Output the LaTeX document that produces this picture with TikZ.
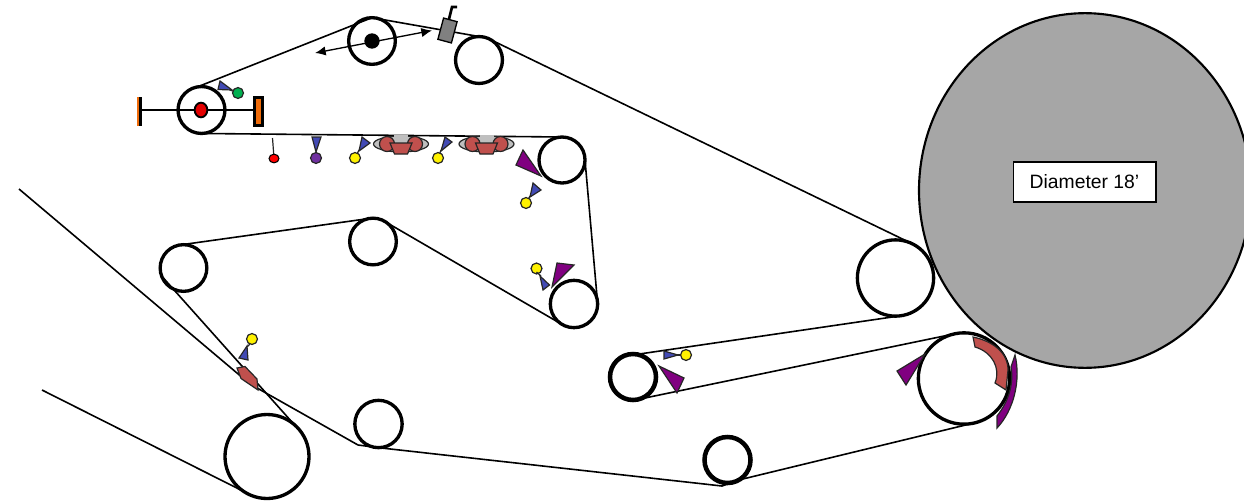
\documentclass[tikz,border=0pt]{standalone}
\usepackage{fontspec}
\usetikzlibrary{shapes.geometric,arrows.meta}
\setmainfont{Liberation Sans}
\tikzset{
 roller/.style={circle,draw=black,fill=white,line width=#1,inner sep=0pt,outer sep=0pt},
 roller/.default=2.5pt,
 belt/.style={draw=black,line width=1.2pt,line join=round},
 trip/.style={draw=black!85,fill=#1,line width=0.9pt,line join=miter},
 ball/.style={circle,draw=black!85,fill=#1,line width=0.9pt,inner sep=0pt,minimum size=8.2pt},
 stem/.style={draw=black!85,line width=0.9pt},
}
\definecolor{nblue}{RGB}{66,74,180}
\definecolor{npurple}{RGB}{128,0,128}
\definecolor{nbrick}{RGB}{192,80,77}
\definecolor{nvio}{RGB}{112,48,160}
\definecolor{ngreen}{RGB}{0,176,80}
\definecolor{norange}{RGB}{240,108,10}
\definecolor{ngray}{RGB}{166,166,166}
\definecolor{lgray}{RGB}{191,191,191}
\definecolor{dgray}{RGB}{128,128,128}
\begin{document}
\begin{tikzpicture}[x=0.75pt,y=-0.75pt]
\useasboundingbox (0,0) rectangle (1244,503);
\clip (0,0) rectangle (1244,503);
% drum
\node[ellipse,draw=black,fill=ngray,line width=1.6pt,minimum width=249pt,minimum height=266pt,inner sep=0pt,outer sep=0pt] (drum) at (1085,190.5) {};
\node[draw=black,fill=white,line width=1pt,minimum width=107pt,minimum height=30pt,inner sep=0pt,font=\fontsize{14.5}{16}\selectfont] (lbl) at (1084.5,182) {Diameter 18’};
% rollers
\node[roller,minimum size=35.2pt] (a) at (201.5,110) {};
\node[roller,minimum size=35pt] (b) at (372,41) {};
\node[roller,minimum size=35.2pt] (c) at (479,60) {};
\node[roller,minimum size=34.5pt] (d) at (562,160) {};
\node[roller,minimum size=35.5pt] (e) at (574,304) {};
\node[roller,minimum size=35pt] (f) at (373,241.5) {};
\node[roller,minimum size=35pt] (g) at (183.5,268) {};
\node[roller,minimum size=63pt] (h) at (267,456.5) {};
\node[roller,minimum size=35.5pt] (i) at (378.5,424) {};
\node[roller=3.4pt,minimum size=34.5pt] (j) at (727.5,460) {};
\node[roller=3.4pt,minimum size=34.5pt] (k) at (633,377) {};
\node[roller,minimum size=57.2pt] (l) at (895.5,278) {};
\node[roller,minimum size=68.5pt] (m) at (964,378.5) {};
% free belt ends
\coordinate (s1) at (19,189);
\coordinate (s1b) at (250,384);
\coordinate (s2) at (42,390);
\coordinate (t1) at (358,445);
\coordinate (t2) at (722,486);
% belts
\draw[belt] (s1) -- (s1b) -- (t1) -- (i.-90) -- (t2) -- (j.-60) -- (m.-80);
\draw[belt] (m.100) -- (k.-75);
\draw[belt] (k.80) -- (l.-80);
\draw[belt] (l.65) -- (c.70) -- (b.90) -- (a.100);
\draw[belt] (a.-90) -- (d.90);
\draw[belt] (d.0) -- (e.0);
\draw[belt] (e.-120) -- (f.65);
\draw[belt] (f.100) -- (g.100);
\draw[belt] (g.-160) -- (h.50);
\draw[belt] (s2) -- (h.-110);
% roller axes
\draw[line width=2.2pt] (141,110) -- (256,110);
\node[draw=black,fill=norange,line width=2.2pt,minimum width=6pt,minimum height=20.5pt,inner sep=0pt] (r1) at (258.5,111.5) {};
\fill[norange] (136.5,97) rectangle (139.2,126);
\draw[line width=2.2pt] (140.5,97) -- (140.5,126);
\node[ellipse,draw=black,fill=red!90!black,line width=1.4pt,minimum width=9.5pt,minimum height=11pt,inner sep=0pt] (r2) at (201,110) {};
\node[circle,fill=black,minimum size=11.5pt,inner sep=0pt] (r3) at (372,41) {};
% double arrow
\draw[{Latex[length=8pt,width=7pt]}-{Latex[length=8pt,width=7pt]},line width=1pt] (315,53) -- (432,30.5);
% head
\draw[line width=2pt] (449,19) -- (452,7) -- (457,7);
\node[draw=black,fill=dgray,line width=1pt,minimum width=10.5pt,minimum height=16.5pt,inner sep=0pt,rotate=-15] (hd) at (447.5,30.5) {};
% green
\draw[trip=nblue] (220,81) -- (218,89.5) -- (232,90) -- cycle;
\draw[stem] (230,90) -- (238,93);
\node[ball=ngreen] (b1) at (238,93) {};
% red
\draw[stem] (272.5,138) -- (274,158);
\node[ellipse,draw=black,fill=red,line width=.8pt,inner sep=0pt,minimum width=7.5pt,minimum height=6.5pt] (b2) at (274,158.5) {};
% violet
\draw[trip=nblue] (312,137) -- (321,137) -- (316,152) -- cycle;
\node[ball=nvio] (b3) at (316,158) {};
% yellow 1
\draw[trip=nblue] (362,137) -- (370,143) -- (359,151) -- cycle;
\draw[stem] (359,150) -- (355,158);
\node[ball=yellow] (b4) at (355,158) {};
% presses
\foreach \cx in {401,486.5}{
 \draw[fill=lgray,line width=.9pt,draw=black!85] (\cx,144) ellipse (27.5 and 8);
 \fill[lgray] (\cx-7,135) rectangle (\cx+7,143);
 \draw[fill=nbrick,line width=.9pt,draw=black!85] (\cx-14,144) ellipse (7.5 and 7.5);
 \draw[fill=nbrick,line width=.9pt,draw=black!85] (\cx+14,144) ellipse (7.5 and 7.5);
 \draw[fill=nbrick,line width=.9pt,draw=black!85] (\cx-11,143) -- (\cx+11,143) -- (\cx+6.5,154) -- (\cx-6.5,154) -- cycle;
}
% yellow 2
\draw[trip=nblue] (445,137) -- (452,142) -- (441,151) -- cycle;
\draw[stem] (441,150) -- (438,158);
\node[ball=yellow] (b5) at (438,158) {};
% yellow 3
\draw[trip=nblue] (533,183) -- (541,190) -- (530,197) -- cycle;
\draw[stem] (530,196) -- (526,203);
\node[ball=yellow] (b6) at (526,203) {};
% yellow 4
\node[ball=yellow] (b7) at (536.5,268.5) {};
\draw[stem] (536.5,272) -- (541,276);
\draw[trip=nblue] (540,276) -- (549.5,285) -- (543,290) -- cycle;
% yellow 5
\draw[trip=nblue] (664,351) -- (664,359) -- (678,355) -- cycle;
\draw[stem] (676,355) -- (681,355);
\node[ball=yellow] (b8) at (686,355) {};
% yellow 6
\node[ball=yellow] (b9) at (252,339) {};
\draw[stem] (250,344) -- (247,347);
\draw[trip=nblue] (247,346) -- (248,360) -- (239,358) -- cycle;
% purple blades
\draw[trip=npurple] (523,150) -- (516,165) -- (541,176) -- cycle;
\draw[trip=npurple] (557,263) -- (574,265) -- (552,287) -- cycle;
\draw[trip=npurple] (659,366) -- (684,378) -- (677,393) -- cycle;
\draw[trip=npurple] (925,354) -- (897,371) -- (906,385) -- cycle;
% purple arc
\draw[trip=npurple] (1015,355) .. controls (1021,380) and (1014,410) .. (997,428) -- (997,416) .. controls (1008,402) and (1014,385) .. (1011,367) -- cycle;
% brick arc
\draw[trip=nbrick] (973,337) .. controls (992,341) and (1008,352) .. (1008,370) -- (1006,390) -- (995,383) .. controls (1001,368) and (992,352) .. (975,347) -- cycle;
% brick plate
\draw[trip=nbrick] (237,368) -- (245,366.5) -- (257,379) -- (258,390) -- (241,378.5) -- cycle;
\end{tikzpicture}
\end{document}
